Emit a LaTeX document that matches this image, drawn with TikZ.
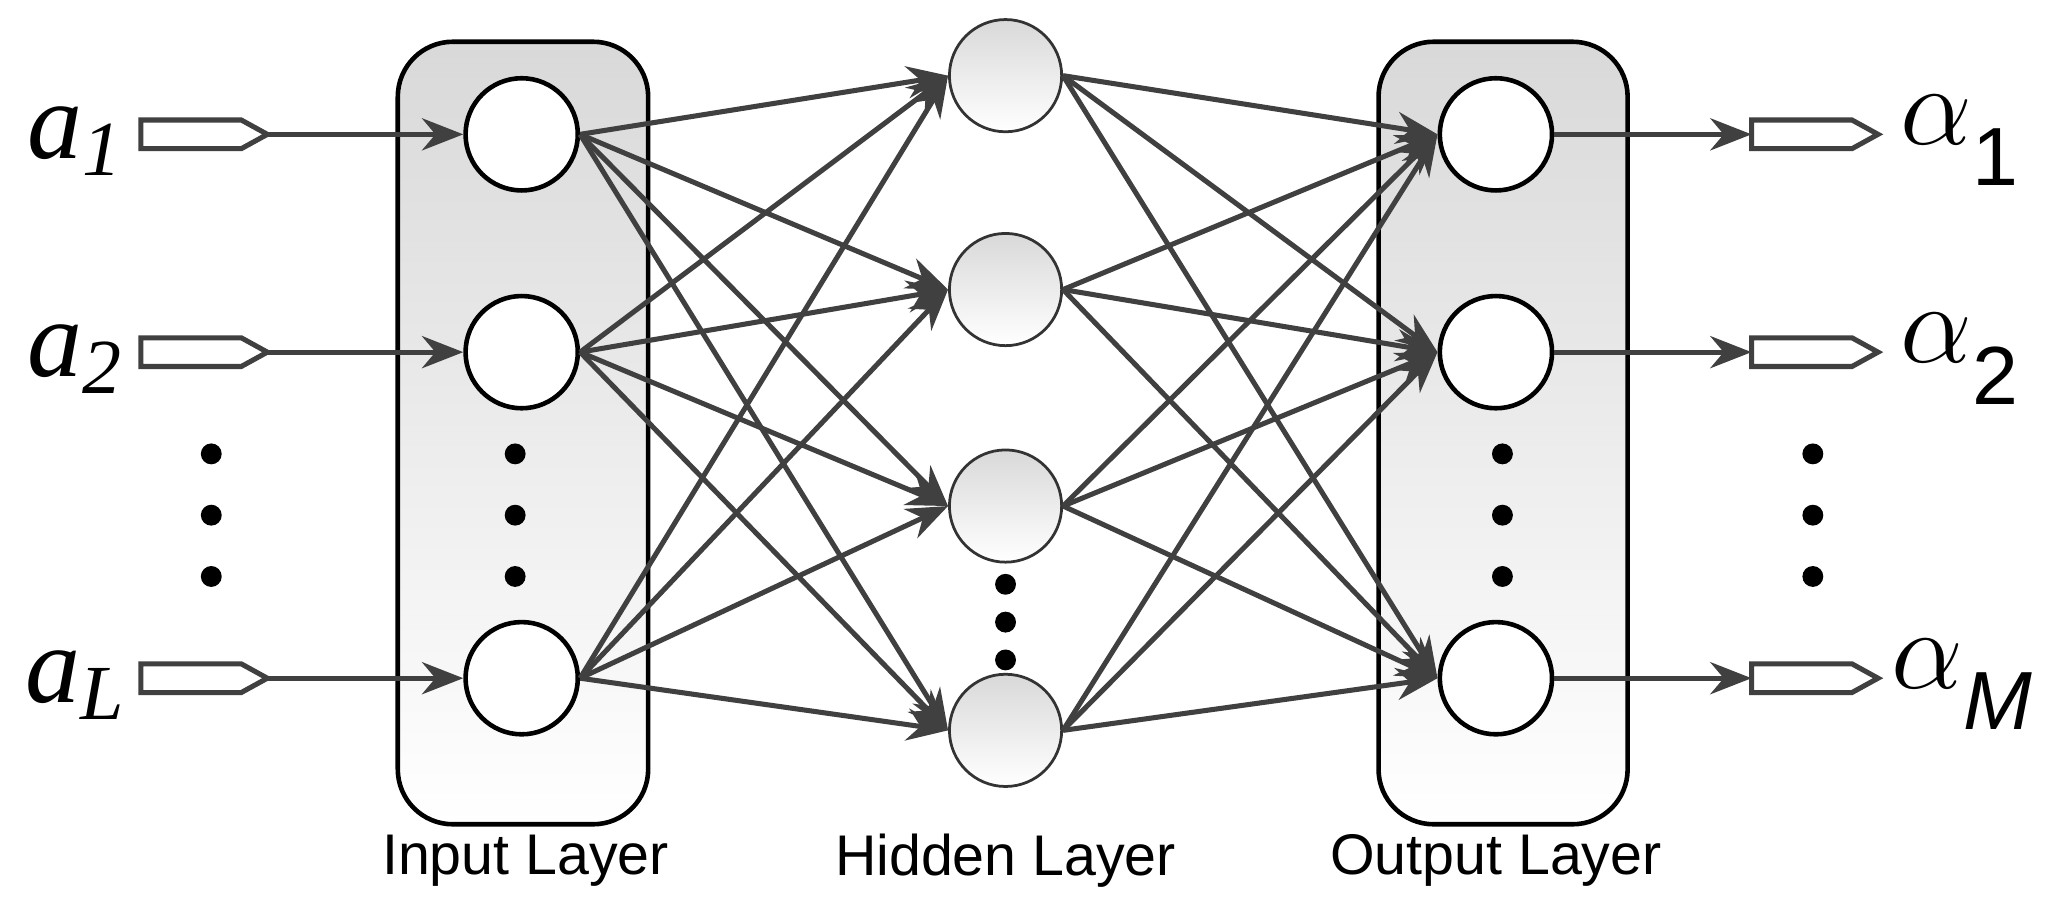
\documentclass[tikz,border=0pt]{standalone}
\usepackage{fontspec}
\setmainfont{Liberation Serif}
\newfontfamily\labsans{Liberation Sans}
\usetikzlibrary{arrows.meta}
\definecolor{ln}{HTML}{404040}
\newcommand{\alab}[1]{{\fontsize{30}{30}\selectfont$\alpha$}\textsubscript{\labsans\fontsize{18}{18}\selectfont #1}}
\begin{document}
\begin{tikzpicture}[x=0.01cm,y=-0.01cm,
  layerbox/.style={draw=black,line width=1pt,rounded corners=12pt,top color=gray!30,bottom color=white},
  neuron/.style={circle,draw=black,line width=1pt,fill=white,inner sep=0pt,minimum size=0.86cm},
  hneuron/.style={circle,draw=black!80,line width=0.6pt,inner sep=0pt,minimum size=0.86cm,top color=gray!30,bottom color=white},
  conn/.style={draw=ln,line width=1.1pt,-{Stealth[length=9pt,width=7pt]}},
  dot/.style={circle,fill=black,inner sep=0pt,minimum size=0.16cm},
  inlab/.style={font=\itshape\fontsize{24}{24}\selectfont},
  laylab/.style={font=\labsans\fontsize{12.5}{13}\selectfont},
  port/.style={draw=ln,line width=1.1pt,fill=white}]
\useasboundingbox (0,0) rectangle (1568,708);
\fill[white] (0,0) rectangle (1568,708);
\draw[layerbox] (305,32) rectangle (497,632);
\draw[layerbox] (1057,32) rectangle (1248,632);
\foreach \n/\y in {1/103,2/270,3/520}{
  \node[neuron] (i\n) at (400,\y) {};
  \node[neuron] (o\n) at (1147,\y) {};
  \draw[port] (108,\y-11) -- (185,\y-11) -- (205,\y) -- (185,\y+11) -- (108,\y+11) -- cycle;
  \coordinate (pin\n) at (205,\y);
  \draw[port] (1343,\y-11) -- (1420,\y-11) -- (1440,\y) -- (1420,\y+11) -- (1343,\y+11) -- cycle;
  \coordinate (pout\n) at (1343,\y);
  \draw[conn] (pin\n) -- (i\n);
  \draw[conn] (o\n) -- (pout\n);
}
\foreach \n/\y in {1/58,2/222,3/388,4/560}{\node[hneuron] (h\n) at (771,\y) {};}
\foreach \i in {1,2,3}{\foreach \h in {1,2,3,4}{
  \draw[conn] (i\i.east) -- (h\h.west);
  \draw[conn] (h\h.east) -- (o\i.west);}}
\foreach \x in {162,395,1152,1390}{\foreach \y in {348,395,442}{\node[dot] at (\x,\y) {};}}
\foreach \y in {448,477,506}{\node[dot] at (771,\y) {};}
\node[inlab] (la1) at (58,108) {a\textsubscript{\fontsize{17}{17}\selectfont 1}};
\node[inlab] (la2) at (58,275) {a\textsubscript{\fontsize{17}{17}\selectfont 2}};
\node[inlab] (la3) at (58,525) {a\textsubscript{\fontsize{17}{17}\selectfont L}};
\node (lo1) at (1503,108) {\alab{1}};
\node (lo2) at (1503,275) {\alab{2}};
\node (lo3) at (1505,525) {\alab{\itshape M}};
\node[laylab] (t1) at (403,660) {Input Layer};
\node[laylab] (t2) at (771,660) {Hidden Layer};
\node[laylab] (t3) at (1147,660) {Output Layer};
\end{tikzpicture}
\end{document}
